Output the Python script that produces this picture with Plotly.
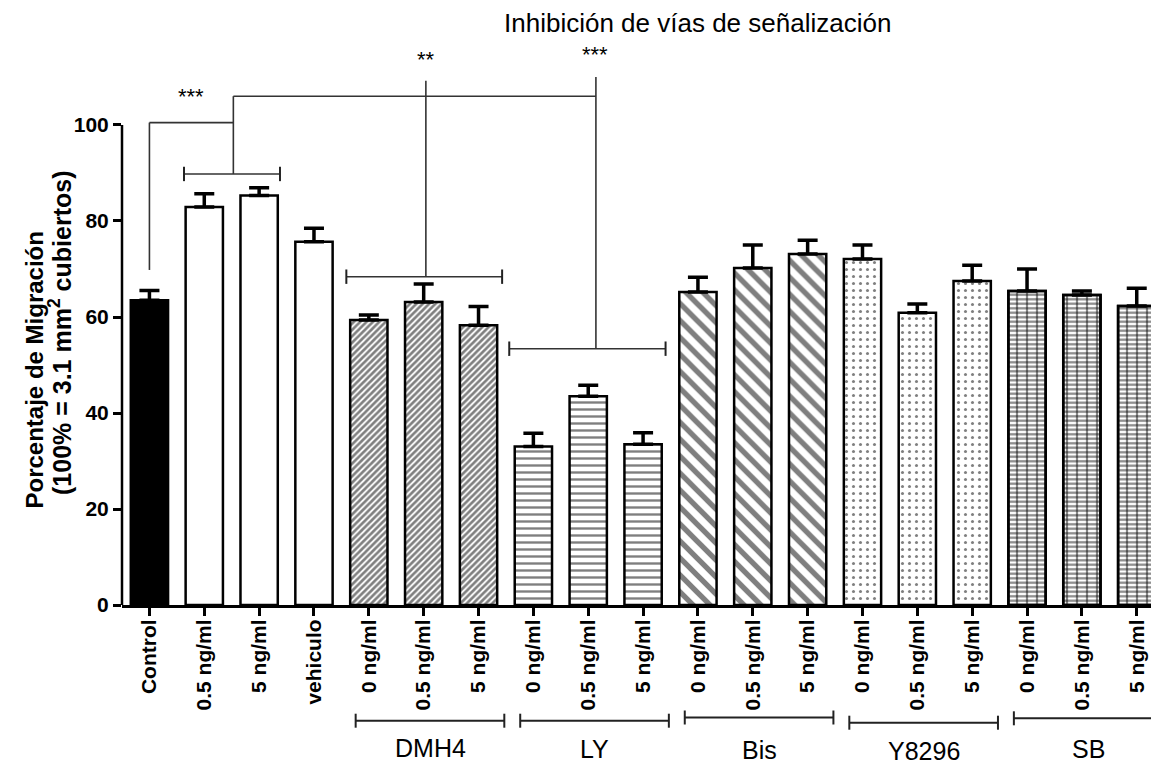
import plotly.graph_objects as go

# ---- data -------------------------------------------------------------
categories = ["Control", "0.5 ng/ml", "5 ng/ml", "vehiculo",
              "0 ng/ml", "0.5 ng/ml", "5 ng/ml",
              "0 ng/ml", "0.5 ng/ml", "5 ng/ml",
              "0 ng/ml", "0.5 ng/ml", "5 ng/ml",
              "0 ng/ml", "0.5 ng/ml", "5 ng/ml",
              "0 ng/ml", "0.5 ng/ml", "5 ng/ml"]
migration = [63.5, 82.9, 85.3, 75.7,
             59.4, 63.1, 58.3,
             33.0, 43.5, 33.5,
             65.2, 70.2, 73.1,
             72.1, 60.9, 67.5,
             65.4, 64.6, 62.3]
sem = [2.0, 2.8, 1.6, 2.8,
       1.0, 3.8, 3.9,
       2.8, 2.3, 2.4,
       3.1, 4.8, 2.9,
       2.9, 1.8, 3.3,
       4.6, 0.8, 3.7]
inhibitors = ["DMH4", "LY", "Bis", "Y8296", "SB"]
y_ticks = [0, 20, 40, 60, 80, 100]
title_text = "Inhibición de vías de señalización"
ytitle_1 = "Porcentaje de Migración"
ytitle_2 = "(100% = 3.1 mm<sup>2</sup> cubiertos)"

# ---- geometry ---------------------------------------------------------
W, H = 1151, 766
ML, MR, MT, MB = 122, 0, 0, 161
PLOT_W = W - ML - MR
PLOT_H = H - MT - MB
X_MIN, X_MAX = -0.5, 18.26
Y_MAX = 126.04
FONT = "Liberation Sans, Arial, sans-serif"


def xp(cat):
    """category position -> paper x"""
    return (cat - X_MIN) / (X_MAX - X_MIN)


def xpx(px):
    """pixel x -> paper x"""
    return (px - ML) / PLOT_W


def ypx(py):
    """pixel y -> paper y"""
    return (H - MB - py) / PLOT_H


x = list(range(len(categories)))

# bar groups and their fills
groups = [
    ("Control", [0], dict(shape="", fgcolor="black", bgcolor="black"), "black"),
    ("EGF", [1, 2, 3], dict(shape=""), "white"),
    ("DMH4", [4, 5, 6], dict(shape="/", size=4.5, solidity=0.6,
                             fgcolor="black", bgcolor="white"), "white"),
    ("LY", [7, 8, 9], dict(shape="-", size=7, solidity=0.34,
                           fgcolor="black", bgcolor="white"), "white"),
    ("Bis", [10, 11, 12], dict(shape="\\", size=12, solidity=0.45,
                               fgcolor="black", bgcolor="white"), "white"),
    ("Y8296", [13, 14, 15], dict(shape=".", size=7, solidity=0.15,
                                 fgcolor="black", bgcolor="white"), "white"),
    ("SB", [16, 17, 18], dict(shape="-", size=4.5, solidity=0.5,
                              fgcolor="#111", bgcolor="white"), "white"),
]

fig = go.Figure()
BAR_W = 0.68
for name, idx, pat, col in groups:
    fig.add_trace(go.Bar(
        x=[x[i] for i in idx],
        y=[migration[i] for i in idx],
        width=BAR_W,
        marker=dict(color=col, pattern=pat,
                    line=dict(color="black", width=2.5)),
        error_y=dict(type="data", symmetric=False,
                     array=[sem[i] for i in idx],
                     arrayminus=[0] * len(idx),
                     color="black", thickness=3.5, width=10),
        name=name, showlegend=False,
    ))
    if name == "SB":
        # vertical joints of the brick fill
        fig.add_trace(go.Bar(
            x=[x[i] for i in idx],
            y=[migration[i] for i in idx],
            width=BAR_W,
            marker=dict(color="rgba(0,0,0,0)",
                        pattern=dict(shape="|", size=10, solidity=0.22,
                                     fgcolor="#111", bgcolor="rgba(0,0,0,0)"),
                        line=dict(color="black", width=2.5)),
            showlegend=False, hoverinfo="skip",
        ))

shapes = []
LINE = dict(color="#333", width=1.6)


def seg(x0, y0, x1, y1, line=LINE):
    shapes.append(dict(type="line", xref="x", yref="y",
                       x0=x0, y0=y0, x1=x1, y1=y1, line=line))


def bracket(x0, x1, yv, tick=1.5):
    seg(x0, yv, x1, yv)
    seg(x0, yv - tick, x0, yv + tick, dict(color="#222", width=2))
    seg(x1, yv - tick, x1, yv + tick, dict(color="#222", width=2))


# comparison brackets above the bars
bracket(0.63, 2.38, 89.8)
bracket(3.59, 6.43, 68.4)
bracket(6.56, 9.41, 53.4)
seg(0, 69.8, 0, 100.5)
seg(0, 100.5, 1.53, 100.5)
seg(1.53, 89.8, 1.53, 106.0)
seg(1.53, 106.0, 8.14, 106.0)
seg(5.04, 68.4, 5.04, 109.2)
seg(8.14, 53.4, 8.14, 110.0)

# y axis line (0 to 100 only)
shapes.append(dict(type="line", xref="paper", yref="y", x0=0, x1=0,
                   y0=0, y1=100, line=dict(color="black", width=2.5)))

# inhibitor brackets under the tick labels
group_y = [720.7, 720.7, 717.5, 722.7, 718.3]
label_y = [747.5, 749.5, 750.0, 750.5, 749.0]
annotations = []
for g, name in enumerate(inhibitors):
    first = 4 + 3 * g
    last = first + 2
    x0, x1 = xp(first - 0.24), xp(last + 0.47)
    yy = ypx(group_y[g])
    tk = 7 / PLOT_H
    for xa, ya, xb, yb in [(x0, yy, x1, yy), (x0, yy - tk, x0, yy + tk),
                           (x1, yy - tk, x1, yy + tk)]:
        shapes.append(dict(type="line", xref="paper", yref="paper",
                           x0=xa, y0=ya, x1=xb, y1=yb,
                           line=dict(color="#222", width=2)))
    annotations.append(dict(text=name, xref="paper", yref="paper",
                            x=xp((first + last) / 2 + 0.12), y=ypx(label_y[g]),
                            showarrow=False, xanchor="center", yanchor="middle",
                            borderpad=0,
                            font=dict(family=FONT, size=25, color="black")))

# significance stars
for txt, cx, cy in [("***", 0.755, 93.3), ("**", 5.04, 56.0), ("***", 8.12, 51.7)]:
    annotations.append(dict(text=txt, xref="x", yref="paper", x=cx,
                            y=ypx(cy + 3), showarrow=False,
                            xanchor="center", yanchor="middle",
                            font=dict(family=FONT, size=22, color="black")))

# title
annotations.append(dict(text=title_text, xref="paper", yref="paper",
                        x=xpx(697.5), y=ypx(22.7), showarrow=False,
                        xanchor="center", yanchor="middle",
                        font=dict(family=FONT, size=26, color="black")))

# y axis title, two lines
annotations.append(dict(text=ytitle_1, xref="paper", yref="paper",
                        x=xpx(34), y=ypx(370.5), textangle=-90, showarrow=False,
                        xanchor="center", yanchor="middle",
                        font=dict(family=FONT, size=24, color="black",
                                  weight="bold")))
annotations.append(dict(text=ytitle_2, xref="paper", yref="paper",
                        x=xpx(60), y=ypx(333), textangle=-90, showarrow=False,
                        xanchor="center", yanchor="middle",
                        font=dict(family=FONT, size=25, color="black",
                                  weight="bold")))

fig.update_layout(
    width=W, height=H,
    margin=dict(l=ML, r=MR, t=MT, b=MB, pad=0),
    paper_bgcolor="white", plot_bgcolor="white",
    barmode="overlay",
    shapes=shapes, annotations=annotations,
    xaxis=dict(range=[X_MIN, X_MAX], tickmode="array", tickvals=x,
               ticktext=categories, tickangle=-90, ticklabelstandoff=-5,
               tickfont=dict(family=FONT, size=21, color="black", weight="bold"),
               showline=True, linecolor="black", linewidth=3,
               ticks="outside", ticklen=8, tickwidth=2.5, tickcolor="black",
               showgrid=False, zeroline=False, fixedrange=True),
    yaxis=dict(range=[0, Y_MAX], tickmode="array", tickvals=y_ticks,
               tickfont=dict(family=FONT, size=21, color="black", weight="bold"),
               showline=False, ticks="outside", ticklen=8, tickwidth=2.5,
               tickcolor="black", showgrid=False, zeroline=False,
               fixedrange=True),
)

fig.write_html("out.html")
